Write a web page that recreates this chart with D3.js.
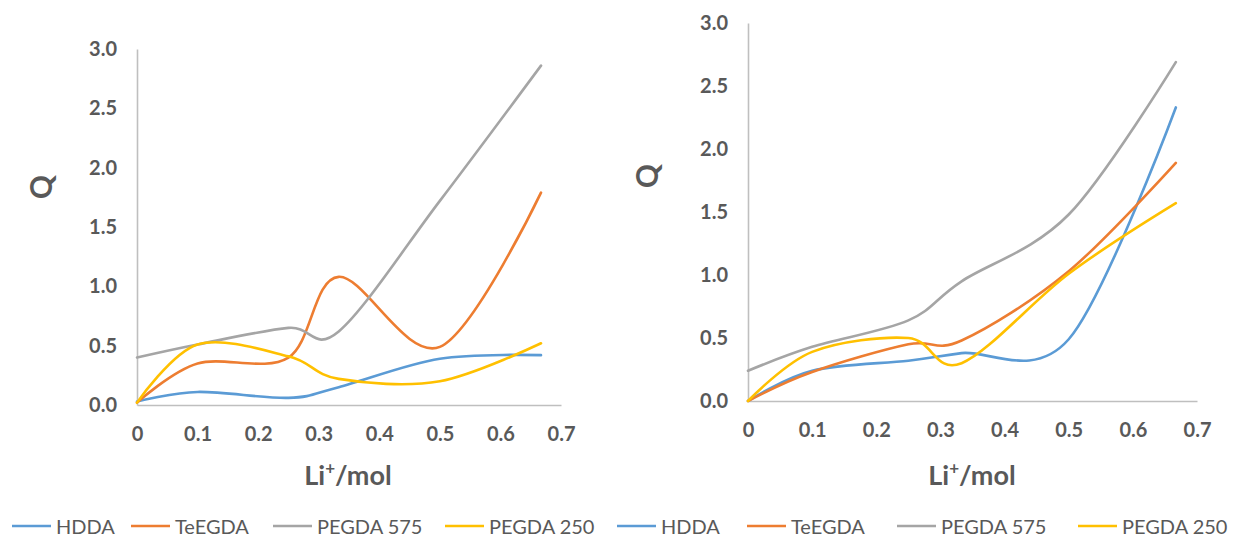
<!DOCTYPE html>
<html><head><meta charset="utf-8">
<script src="https://cdn.jsdelivr.net/npm/d3@7"></script>
<style>body{margin:0;background:#fff}svg{display:block}</style>
</head><body>
<svg id="c" width="1233" height="537"></svg>
<script>
const xValues = [0, 0.1, 0.25, 0.333, 0.5, 0.667];
const seriesNames = ["HDDA", "TeEGDA", "PEGDA 575", "PEGDA 250"];
// Left chart
const leftHDDA     = [0.03, 0.11, 0.06, 0.15, 0.39, 0.42];
const leftTeEGDA   = [0.02, 0.35, 0.40, 1.08, 0.49, 1.79];
const leftPEGDA575 = [0.40, 0.51, 0.65, 0.62, 1.72, 2.86];
const leftPEGDA250 = [0.02, 0.51, 0.41, 0.22, 0.20, 0.52];
// Right chart
const rightHDDA     = [0.00, 0.24, 0.32, 0.38, 0.49, 2.33];
const rightTeEGDA   = [0.00, 0.23, 0.45, 0.48, 1.03, 1.89];
const rightPEGDA575 = [0.24, 0.43, 0.64, 0.95, 1.48, 2.69];
const rightPEGDA250 = [0.00, 0.39, 0.50, 0.30, 1.01, 1.57];
const yTicks = [0, 0.5, 1.0, 1.5, 2.0, 2.5, 3.0];
const xTicks = [0, 0.1, 0.2, 0.3, 0.4, 0.5, 0.6, 0.7];
const colors = ["#5B9BD5", "#ED7D31", "#A5A5A5", "#FFC000"];

const svg = d3.select("#c");
const tickFont = "Lato, 'Open Sans', sans-serif";

function drawChart(cfg, data) {
  const x = d3.scaleLinear().domain([0, 0.7]).range([cfg.x0, cfg.x1]);
  const y = d3.scaleLinear().domain([0, 3]).range([cfg.y0, cfg.y1]);
  const g = svg.append("g");
  const yAxis = d3.axisLeft(y).tickValues(yTicks).tickFormat(d3.format(".1f")).tickSize(0).tickPadding(20);
  const xAxis = d3.axisBottom(x).tickValues(xTicks).tickFormat(d => d === 0 ? "0" : d3.format(".1f")(d)).tickSize(0).tickPadding(22);
  const gy = g.append("g").attr("transform", `translate(${cfg.x0},0)`).call(yAxis);
  const gx = g.append("g").attr("transform", `translate(0,${cfg.y0})`).call(xAxis);
  [gx, gy].forEach(a => {
    a.select(".domain").attr("stroke", "#BFBFBF").attr("stroke-width", 1.6);
    a.selectAll("text").attr("fill", "#595959").attr("font-family", tickFont)
      .attr("font-weight", "bold").attr("font-size", 20);
  });
  const line = d3.line().x((d, i) => x(xValues[i])).y(d => y(d)).curve(d3.curveCatmullRom.alpha(0));
  data.forEach((s, k) => {
    g.append("path").attr("d", line(s)).attr("fill", "none")
      .attr("stroke", colors[k]).attr("stroke-width", 2.6).attr("stroke-linecap", "round");
  });
  g.append("text").attr("transform", `translate(${cfg.qx},${cfg.qy}) rotate(-90)`)
    .attr("text-anchor", "middle").attr("dominant-baseline", "central")
    .attr("font-family", tickFont).attr("font-weight", "bold").attr("font-size", 30).attr("fill", "#595959").text("Q");
  const t = g.append("text").attr("x", cfg.lx).attr("y", cfg.ly).attr("text-anchor", "middle")
    .attr("font-family", tickFont).attr("font-weight", "bold").attr("font-size", 27).attr("fill", "#595959");
  t.append("tspan").text("Li");
  t.append("tspan").attr("dy", -11).attr("font-size", 17).text("+");
  t.append("tspan").attr("dy", 11).text("/mol");
}

drawChart({x0: 137, x1: 561, y0: 405, y1: 49, qx: 40, qy: 187, lx: 348, ly: 485},
  [leftHDDA, leftTeEGDA, leftPEGDA575, leftPEGDA250]);
drawChart({x0: 748, x1: 1197, y0: 401, y1: 23, qx: 646, qy: 176, lx: 972, ly: 485},
  [rightHDDA, rightTeEGDA, rightPEGDA575, rightPEGDA250]);

const legendStarts = [12, 131, 273, 445, 617, 747, 897, 1078];
const lg = svg.append("g");
legendStarts.forEach((lx, i) => {
  const k = i % 4;
  lg.append("line").attr("x1", lx).attr("x2", lx + 39).attr("y1", 526).attr("y2", 526)
    .attr("stroke", colors[k]).attr("stroke-width", 2.6);
  lg.append("text").attr("x", lx + 44).attr("y", 526).attr("dominant-baseline", "central")
    .attr("font-family", tickFont).attr("font-size", 20).attr("fill", "#595959").text(seriesNames[k]);
});
</script>
</body></html>
